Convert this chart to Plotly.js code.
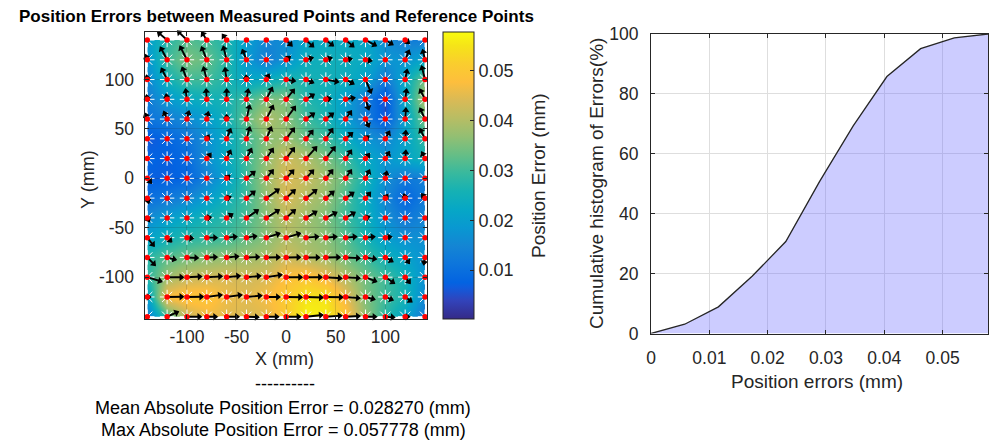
<!DOCTYPE html>
<html><head><meta charset="utf-8">
<script src="https://cdn.plot.ly/plotly-3.0.1.min.js"></script>
<style>html,body{margin:0;padding:0;background:#fff}#plot{width:990px;height:442px}</style>
</head><body><div id="plot"></div>
<script>
// ---------------- DATA ----------------
const GRID_X = [-140,-120,-100,-80,-60,-40,-20,0,20,40,60,80,100,120,140];
const GRID_Y = [140,120,100,80,60,40,20,0,-20,-40,-60,-80,-100,-120,-140]; // rows top -> bottom

// interpolated position error magnitude (mm), rows follow GRID_Y
const Z = [
 [.020,.028,.032,.030,.027,.020,.015,.016,.022,.023,.023,.022,.016,.013,.013],
 [.018,.030,.035,.033,.028,.019,.013,.018,.024,.025,.024,.023,.018,.018,.022],
 [.015,.025,.030,.030,.027,.022,.024,.027,.026,.025,.024,.021,.012,.023,.035],
 [.013,.019,.023,.025,.026,.030,.035,.035,.027,.025,.020,.013,.005,.023,.040],
 [.011,.013,.016,.020,.025,.033,.040,.036,.030,.026,.020,.013,.006,.021,.035],
 [.006,.008,.011,.017,.023,.030,.036,.038,.033,.030,.024,.018,.015,.021,.030],
 [.008,.007,.009,.017,.023,.030,.037,.043,.040,.035,.030,.023,.018,.022,.025],
 [.007,.007,.008,.014,.021,.030,.038,.044,.042,.038,.033,.026,.017,.012,.014],
 [.010,.012,.015,.020,.025,.030,.037,.044,.040,.037,.031,.024,.015,.008,.013],
 [.016,.020,.023,.026,.028,.031,.036,.041,.038,.035,.030,.025,.017,.012,.015],
 [.021,.025,.028,.029,.030,.033,.036,.040,.038,.036,.032,.026,.020,.017,.017],
 [.028,.032,.034,.036,.037,.038,.039,.043,.040,.038,.034,.030,.025,.021,.017],
 [.028,.038,.042,.043,.044,.043,.044,.048,.050,.046,.040,.034,.030,.025,.017],
 [.020,.048,.050,.050,.046,.045,.047,.051,.055,.055,.046,.035,.030,.026,.015],
 [.013,.030,.042,.046,.045,.044,.045,.051,.057,.056,.050,.037,.028,.021,.012]
];

// error vector direction (degrees, counter-clockwise from +X)
const ANG = [
 [0,140,136,123,127,0,0,-45,-42,-38,-40,-28,-32,-40,0],
 [110,118,117,112,104,112,0,40,17,20,10,-10,0,67,103],
 [100,117,111,105,98,95,62,-10,-24,-11,-28,-67,0,79,104],
 [100,100,98,94,90,80,63,51,32,10,10,-72,0,82,117],
 [112,114,76,78,90,77,63,54,35,38,55,-66,0,86,115],
 [0,0,0,60,68,74,67,53,51,56,42,40,61,85,117],
 [0,0,0,51,64,63,56,53,48,52,56,51,59,85,117],
 [-49,0,0,0,45,39,51,48,48,51,56,64,79,0,0],
 [-75,0,0,0,20,39,35,43,38,40,35,50,55,105,128],
 [-60,0,0,10,34,34,32,42,31,27,31,18,0,0,0],
 [-51,-43,-6,0,6,9,18,17,5,5,5,6,10,0,0],
 [-45,-15,-3,2,5,2,1,1,0,1,-3,-9,-29,-55,-100],
 [-17,0,3,3,6,5,9,0,0,-4,-4,-22,-34,-52,0],
 [0,1,1,8,8,5,0,-1,-2,-1,-5,-15,-22,-36,0],
 [0,24,0,0,0,-2,0,0,6,4,3,0,-4,0,0]
];

// error vector magnitude (um) as drawn by the quiver
const MAG = [
 [0,36,38,27,20,0,0,24,30,28,31,36,26,15,0],
 [15,42,45,41,41,32,0,15,21,18,18,18,0,30,30],
 [12,37,39,38,35,12,17,27,24,38,27,43,0,30,41],
 [12,15,30,30,30,30,39,38,28,15,27,32,0,30,33],
 [18,24,24,21,12,42,45,46,30,28,29,25,0,32,35],
 [0,0,0,12,32,36,38,40,32,36,27,12,25,24,33],
 [0,0,0,19,27,33,36,40,47,44,30,18,23,24,21],
 [18,0,0,0,12,32,32,33,33,32,30,27,21,0,0],
 [15,0,0,0,12,32,46,36,40,31,29,22,12,12,15],
 [12,0,0,12,21,42,45,36,37,36,32,12,0,0,0],
 [32,18,18,30,30,30,42,44,37,32,32,27,18,0,0],
 [33,27,33,30,35,38,40,42,40,42,42,32,25,21,21],
 [45,48,43,45,40,42,46,47,47,47,42,35,32,23,0],
 [9,48,48,45,45,45,40,47,50,50,42,28,24,24,0],
 [0,36,42,30,36,36,36,42,50,47,42,32,27,12,0]
];

// cumulative histogram
const ERR_EDGES = [0,0.005778,0.011556,0.017333,0.023111,0.028889,0.034667,0.040444,0.046222,0.052,0.057778];
const CUM_PCT   = [0,3.1,8.9,19.1,30.7,50.7,69.3,85.8,95.1,98.7,100];

const XY_TICKS = [-100,-50,0,50,100];
const XY_TICKTEXT = ['-100','-50','0','50','100'];
const CB_TICKS = [0.01,0.02,0.03,0.04,0.05];
const CB_TICKTEXT = ['0.01','0.02','0.03','0.04','0.05'];
const HX_TICKS = [0,0.01,0.02,0.03,0.04,0.05];
const HX_TICKTEXT = ['0','0.01','0.02','0.03','0.04','0.05'];
const HY_TICKS = [0,20,40,60,80,100];

const TITLE = 'Position Errors between Measured Points and Reference Points';
const MEAN_TXT = 'Mean Absolute Position Error = 0.028270 (mm)';
const MAX_TXT = 'Max Absolute Position Error = 0.057778 (mm)';
const ERR_MIN = 0.0002, ERR_MAX = 0.057778;

// ---------------- BUILD ----------------
const W = 990, H = 442;
const px = v => v / W;
const py = v => 1 - v / H;
const FONT = 'Arial, "Liberation Sans", Helvetica, sans-serif';
const INK = '#262626';

// MATLAB parula colormap (sampled)
const parula = [
 [0/63,'rgb(53,42,135)'],[4/63,'rgb(50,67,186)'],[7/63,'rgb(15,92,221)'],[8/63,'rgb(3,99,225)'],
 [12/63,'rgb(13,117,220)'],[16/63,'rgb(20,133,212)'],[20/63,'rgb(9,152,209)'],[24/63,'rgb(6,167,198)'],
 [28/63,'rgb(21,177,180)'],[32/63,'rgb(56,185,158)'],[36/63,'rgb(101,190,134)'],[40/63,'rgb(146,191,115)'],
 [44/63,'rgb(183,189,100)'],[48/63,'rgb(217,186,86)'],[52/63,'rgb(253,190,61)'],[56/63,'rgb(250,205,46)'],
 [60/63,'rgb(245,228,24)'],[63/63,'rgb(249,251,14)']
];

const yAsc = GRID_Y.slice().reverse();
const zAsc = Z.slice().reverse();

const ptsX = [], ptsY = [];
const shaftX = [], shaftY = [], headX = [], headY = [], headA = [];
const QS = 1/3; // plot units per um
for (let i = 0; i < GRID_Y.length; i++) {
  for (let j = 0; j < GRID_X.length; j++) {
    const x = GRID_X[j], y = GRID_Y[i];
    ptsX.push(x); ptsY.push(y);
    const m = MAG[i][j];
    if (m > 0) {
      const a = ANG[i][j] * Math.PI / 180;
      const L = m * QS;
      const ex = x + L * Math.cos(a), ey = y + L * Math.sin(a);
      shaftX.push(x, ex, null); shaftY.push(y, ey, null);
      headX.push(ex - 1.8 * Math.cos(a)); headY.push(ey - 1.8 * Math.sin(a));
      headA.push(90 - ANG[i][j]);
    }
  }
}

const traces = [
  { type:'heatmap', x: GRID_X, y: yAsc, z: zAsc, xaxis:'x', yaxis:'y',
    zsmooth:'best', colorscale: parula, zmin: ERR_MIN, zmax: ERR_MAX, hoverinfo:'skip',
    colorbar:{ x: px(442.5), xanchor:'left', xref:'paper', y: py(32), yanchor:'top', yref:'paper',
      len: 287, lenmode:'pixels', thickness: 31, thicknessmode:'pixels', xpad:0, ypad:0,
      outlinewidth:1, outlinecolor:INK, ticks:'inside', ticklen:4, tickcolor:INK,
      tickvals: CB_TICKS, ticktext: CB_TICKTEXT, tickfont:{size:18, color:INK, family:FONT} } },
  { type:'scatter', mode:'markers', x: ptsX, y: ptsY, xaxis:'x2', yaxis:'y2', cliponaxis:false,
    marker:{ symbol:'asterisk-open', size:12, color:'white', line:{color:'white', width:1} }, hoverinfo:'skip' },
  { type:'scatter', mode:'lines', x: shaftX, y: shaftY, xaxis:'x2', yaxis:'y2',
    line:{ color:'#000', width:1.9 }, hoverinfo:'skip', connectgaps:false },
  { type:'scatter', mode:'markers', x: headX, y: headY, xaxis:'x2', yaxis:'y2', cliponaxis:false,
    marker:{ symbol:'triangle-up', size:6.5, color:'#000', angle: headA, line:{width:0} }, hoverinfo:'skip' },
  { type:'scatter', mode:'markers', x: ptsX, y: ptsY, xaxis:'x2', yaxis:'y2', cliponaxis:false,
    marker:{ symbol:'circle', size:5.5, color:'#ff0000', line:{width:0} }, hoverinfo:'skip' },
  { type:'scatter', mode:'lines', x: ERR_EDGES, y: CUM_PCT, xaxis:'x3', yaxis:'y3',
    fill:'tozeroy', fillcolor:'rgba(102,102,255,0.333)', line:{ color:INK, width:1.3 }, hoverinfo:'skip' }
];

const ann = (text, x, y, opts) => Object.assign({ text, x: px(x), y: py(y), xref:'paper', yref:'paper',
  showarrow:false, xanchor:'center', yanchor:'middle', font:{ family:FONT, size:18, color:'#000' } }, opts || {});

const layout = {
  width: W, height: H, margin:{l:0,r:0,t:0,b:0}, paper_bgcolor:'#fff', plot_bgcolor:'rgba(0,0,0,0)',
  showlegend:false, font:{ family:FONT, color:INK },
  xaxis:{ domain:[px(147.3), px(425)], range:[-140,140], visible:false, anchor:'y', fixedrange:true },
  yaxis:{ domain:[py(316.7), py(40)], range:[-140,140], visible:false, anchor:'x', fixedrange:true },
  xaxis2:{ domain:[px(144.5), px(426.5)], range:[-142.8,141.5], anchor:'y2', tickvals: XY_TICKS, ticktext: XY_TICKTEXT,
    ticks:'inside', ticklen:4, tickcolor:INK, showline:true, linecolor:INK, linewidth:1, mirror:'ticks',
    showgrid:true, gridcolor:'rgba(40,40,40,0.16)', zeroline:false, tickfont:{size:17.5, color:INK},
    ticklabelstandoff: 2 },
  yaxis2:{ domain:[py(319), py(32)], range:[-142.3,148.1], anchor:'x2', tickvals: XY_TICKS, ticktext: XY_TICKTEXT,
    ticks:'inside', ticklen:4, tickcolor:INK, showline:true, linecolor:INK, linewidth:1, mirror:'ticks',
    showgrid:true, gridcolor:'rgba(40,40,40,0.16)', zeroline:false, tickfont:{size:17.5, color:INK},
    ticklabelstandoff: 6 },
  xaxis3:{ domain:[px(651), px(988)], range:[0,0.057778], anchor:'y3', tickvals: HX_TICKS, ticktext: HX_TICKTEXT,
    ticks:'inside', ticklen:4, tickcolor:INK, showline:true, linecolor:INK, linewidth:1, mirror:'ticks',
    showgrid:true, gridcolor:'#dedede', zeroline:false, tickfont:{size:17.5, color:INK}, ticklabelstandoff: 8 },
  yaxis3:{ domain:[py(333.5), py(34)], range:[0,100], anchor:'x3', tickvals: HY_TICKS,
    ticks:'inside', ticklen:4, tickcolor:INK, showline:true, linecolor:INK, linewidth:1, mirror:'ticks',
    showgrid:true, gridcolor:'#dedede', zeroline:false, tickfont:{size:17.5, color:INK}, ticklabelstandoff: 8 },
  annotations: [
    ann('<b>'+TITLE+'</b>', 276, 17, { font:{ family:FONT, size:17, color:'#000' } }),
    ann('Y (mm)', 88, 180, { textangle:-90, font:{ family:FONT, size:18, color:INK } }),
    ann('X (mm)', 284, 359, { font:{ family:FONT, size:18, color:INK } }),
    ann('----------', 285, 384, { font:{ family:FONT, size:18, color:'#000' } }),
    ann(MEAN_TXT, 283, 408, { font:{ family:FONT, size:18, color:'#000' } }),
    ann(MAX_TXT, 283, 430, { font:{ family:FONT, size:18, color:'#000' } }),
    ann('Position Error (mm)', 539, 176, { textangle:-90, font:{ family:FONT, size:19, color:INK } }),
    ann('Cumulative histogram of Errors(%)', 596, 184, { textangle:-90, font:{ family:FONT, size:19, color:INK } }),
    ann('Position errors (mm)', 817, 381, { font:{ family:FONT, size:19, color:INK } })
  ]
};

Plotly.newPlot('plot', traces, layout, { staticPlot:true, displayModeBar:false });
</script>
</body></html>
